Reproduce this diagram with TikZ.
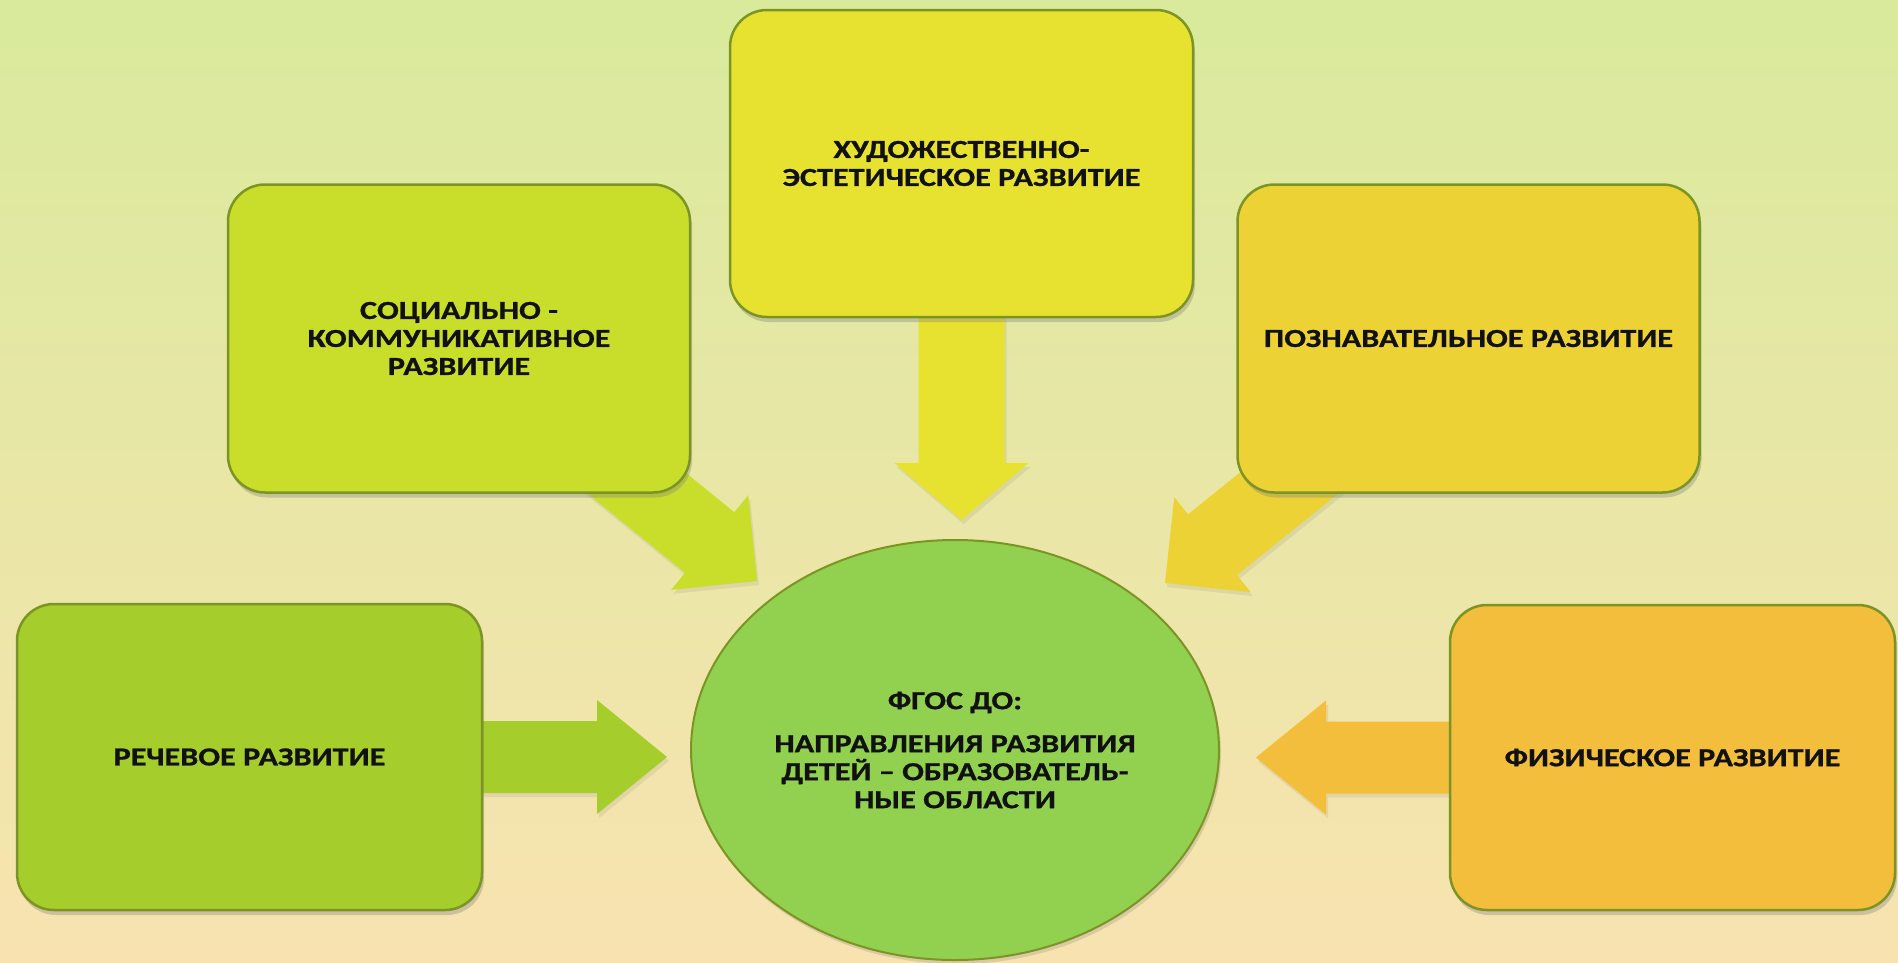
\documentclass[tikz,border=0pt]{standalone}
\usepackage{fontspec}
\newfontfamily\lbl{Carlito}[FakeStretch=1.24, BoldFeatures={FakeBold=0.8}]
\usetikzlibrary{calc,shapes.geometric,shadows}
\definecolor{bgtop}{HTML}{D9EA9C}
\definecolor{bgmid}{HTML}{EEF5DA}
\definecolor{bgbot}{HTML}{F8E3B0}
\definecolor{cHud}{HTML}{E6E22F}
\definecolor{cSoc}{HTML}{C9DD2B}
\definecolor{cPoz}{HTML}{EDD236}
\definecolor{cRech}{HTML}{A5CD2B}
\definecolor{cFiz}{HTML}{F2BE3C}
\definecolor{cMid}{HTML}{92D050}
\definecolor{cEdge}{HTML}{7C9424}
\definecolor{cText}{HTML}{111111}
\pgfdeclarelayer{bg}
\pgfdeclarelayer{arrows}
\pgfsetlayers{bg,arrows,main}
% block arrow: start, tip, shaft half-width, head half-width, head length, colour
\newcommand\blkarrow[6]{%
  \coordinate (ba) at ($(#2)!#5!(#1)$);
  \fill[#6, arrowshade]
    ($(#1)!#3!90:(#2)$) -- ($(ba)!#3!90:(#2)$) -- ($(ba)!#4!90:(#2)$) -- (#2)
    -- ($(ba)!#4!-90:(#2)$) -- ($(ba)!#3!-90:(#2)$) -- ($(#1)!#3!-90:(#2)$) -- cycle;
}
\begin{document}
\begin{tikzpicture}[x=1pt,y=-1pt,
  txt/.style={font=\lbl\bfseries\fontsize{26}{28}\selectfont, text=cText, align=center},
  areabox/.style={txt, draw=cEdge, line width=2.5pt, rounded corners=37pt, inner sep=0pt,
     minimum width=462pt, minimum height=308pt,
     drop shadow={opacity=0.35, shadow xshift=2pt, shadow yshift=-5pt}},
  arrowshade/.style={drop shadow={opacity=0.15, shadow xshift=2pt, shadow yshift=-4pt}},
  centre/.style={txt, ellipse, draw=cEdge, line width=2pt, inner sep=0pt, fill=cMid,
     minimum width=528pt, minimum height=420pt,
     drop shadow={opacity=0.25, shadow xshift=2pt, shadow yshift=-4pt}}]
\useasboundingbox (0,0) rectangle (1898,962);
\begin{pgfonlayer}{bg}
  \shade[top color=bgtop, middle color=bgmid, bottom color=bgbot] (0,0) rectangle (1898,962);
\end{pgfonlayer}

\node[areabox, fill=cHud, minimum width=463pt, minimum height=307pt] (hud) at (961.5,163.5)
  {ХУДОЖЕСТВЕННО-\\ЭСТЕТИЧЕСКОЕ РАЗВИТИЕ};
\node[areabox, fill=cSoc] (soc) at (459,338.5)
  {СОЦИАЛЬНО -\\КОММУНИКАТИВНОЕ\\РАЗВИТИЕ};
\node[areabox, fill=cPoz] (poz) at (1468.5,338.5)
  {ПОЗНАВАТЕЛЬНОЕ РАЗВИТИЕ};
\node[areabox, fill=cRech, minimum width=465pt, minimum height=306pt] (rech) at (249.5,757)
  {РЕЧЕВОЕ РАЗВИТИЕ};
\node[areabox, fill=cFiz, minimum width=445pt, minimum height=305pt] (fiz) at (1672.5,757.5)
  {ФИЗИЧЕСКОЕ РАЗВИТИЕ};
\node[centre] (mid) at (955,750)
  {ФГОС ДО:\\[15pt]НАПРАВЛЕНИЯ РАЗВИТИЯ\\ДЕТЕЙ – ОБРАЗОВАТЕЛЬ-\\НЫЕ ОБЛАСТИ};

\coordinate (tHud) at (961.5,520);
\coordinate (tSoc) at (757,581);
\coordinate (tPoz) at (1165,583);
\coordinate (tRech) at (667,757);
\coordinate (tFiz) at (1256,757.5);
\begin{pgfonlayer}{arrows}
  \blkarrow{hud.center}{tHud}{43pt}{67pt}{57pt}{cHud}
  \blkarrow{soc.center}{tSoc}{39pt}{61pt}{61pt}{cSoc}
  \blkarrow{poz.center}{tPoz}{39pt}{61pt}{61pt}{cPoz}
  \blkarrow{rech.center}{tRech}{36pt}{57pt}{70pt}{cRech}
  \blkarrow{fiz.center}{tFiz}{36pt}{57pt}{70pt}{cFiz}
\end{pgfonlayer}
\end{tikzpicture}
\end{document}
